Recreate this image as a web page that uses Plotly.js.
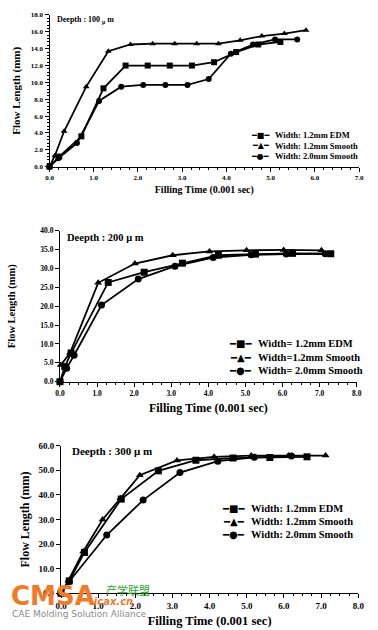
<!DOCTYPE html>
<html><head><meta charset="utf-8">
<script src="https://cdn.plot.ly/plotly-3.0.1.min.js"></script>
<style>html,body{margin:0;padding:0;background:#fff}</style>
</head><body>
<div id="chart" style="width:378px;height:630px"></div>
<script>
// ---- Depth 100 um ----
const d100_edm_x = [0, 0.22, 0.72, 1.22, 1.72, 2.22, 2.72, 3.22, 3.72, 4.22, 4.72, 5.22];
const d100_edm_y = [0, 1.2, 3.6, 9.3, 12.0, 12.0, 12.0, 12.0, 12.4, 13.6, 14.5, 14.8];
const d100_s12_x = [0, 0.12, 0.33, 0.83, 1.33, 1.83, 2.33, 2.83, 3.33, 3.82, 4.31, 4.8, 5.31, 5.8];
const d100_s12_y = [0, 1.3, 4.2, 9.5, 13.7, 14.5, 14.6, 14.6, 14.6, 14.6, 15.0, 15.5, 15.8, 16.2];
const d100_s20_x = [0, 0.2, 0.62, 1.12, 1.62, 2.12, 2.62, 3.12, 3.6, 4.1, 4.6, 5.1, 5.6];
const d100_s20_y = [0, 1.0, 2.8, 7.8, 9.5, 9.7, 9.7, 9.7, 10.4, 13.4, 14.5, 15.1, 15.1];
// ---- Depth 200 um ----
const d200_edm_x = [0, 0.13, 0.3, 1.3, 2.27, 3.3, 4.27, 5.27, 6.27, 7.3];
const d200_edm_y = [0, 4.0, 7.6, 26.3, 29.0, 31.4, 33.5, 33.8, 34.0, 33.9];
const d200_s12_x = [0.02, 0.27, 1.03, 2.02, 3.04, 4.03, 5.03, 6.03, 7.05];
const d200_s12_y = [4.4, 7.6, 26.2, 31.3, 33.5, 34.5, 34.8, 34.9, 34.8];
const d200_s20_x = [0, 0.18, 0.38, 1.12, 2.11, 3.1, 4.13, 5.15, 6.1, 7.15];
const d200_s20_y = [0, 3.6, 7.0, 20.3, 27.2, 30.6, 32.9, 33.6, 33.8, 33.9];
// ---- Depth 300 um ----
const d300_edm_x = [0, 0.22, 0.63, 1.62, 2.62, 3.63, 4.63, 5.62, 6.62];
const d300_edm_y = [0, 5.0, 16.6, 38.3, 49.8, 54.1, 55.0, 55.2, 55.5];
const d300_s12_x = [0, 0.2, 0.6, 1.12, 1.6, 2.12, 3.12, 4.12, 5.12, 6.12, 7.12];
const d300_s12_y = [0, 5.2, 17.0, 30.0, 38.6, 48.0, 54.0, 55.5, 56.0, 56.0, 56.0];
const d300_s20_x = [0, 0.22, 1.23, 2.21, 3.2, 4.22, 5.2, 6.2];
const d300_s20_y = [0, 4.8, 23.7, 37.9, 49.1, 53.7, 55.3, 55.8];

const names100 = ['Width: 1.2mm EDM', 'Width: 1.2mm Smooth', 'Width: 2.0mm Smooth'];
const names200 = ['Width= 1.2mm EDM', 'Width=1.2mm Smooth', 'Width= 2.0mm Smooth'];
const names300 = ['Width: 1.2mm EDM', 'Width: 1.2mm Smooth', 'Width: 2.0mm Smooth'];
const depthLabels = ['Deepth : 100 <sub>μ</sub> m', 'Deepth : 200 μ m', 'Deepth : 300 μ m'];
const xTitle = 'Filling Time (0.001 sec)';
const yTitle = 'Flow Length (mm)';

const symbols = ['square', 'triangle-up', 'circle'];
const legendGlyphs = ['━■━', '━▲━', '━●━'];
const SERIF = 'Liberation Serif, Times New Roman, serif';

function tr(x, y, name, sym, ax, msize) {
  return {x: x, y: y, name: name, type: 'scatter', mode: 'lines+markers',
    xaxis: ax[0], yaxis: ax[1], cliponaxis: false, showlegend: false,
    line: {color: '#000', width: 1.8},
    marker: {symbol: sym, size: msize, color: '#000'}};
}
const data = [
  tr(d100_edm_x, d100_edm_y, names100[0], symbols[0], ['x','y'], 6),
  tr(d100_s12_x, d100_s12_y, names100[1], symbols[1], ['x','y'], 6),
  tr(d100_s20_x, d100_s20_y, names100[2], symbols[2], ['x','y'], 6),
  tr(d200_edm_x, d200_edm_y, names200[0], symbols[0], ['x2','y2'], 7),
  tr(d200_s12_x, d200_s12_y, names200[1], symbols[1], ['x2','y2'], 7),
  tr(d200_s20_x, d200_s20_y, names200[2], symbols[2], ['x2','y2'], 7),
  tr(d300_edm_x, d300_edm_y, names300[0], symbols[0], ['x3','y3'], 7),
  tr(d300_s12_x, d300_s12_y, names300[1], symbols[1], ['x3','y3'], 7),
  tr(d300_s20_x, d300_s20_y, names300[2], symbols[2], ['x3','y3'], 7)
];

function xax(dom, anchor, range, minor, tsize, tfs, standoff) {
  return {domain: dom, anchor: anchor, range: range, dtick: 1, tickformat: '.1f',
    showgrid: false, zeroline: false, showline: true, linecolor: '#000', linewidth: 1,
    ticks: 'outside', ticklen: 4, tickcolor: '#000',
    minor: {dtick: minor, ticks: 'outside', ticklen: 2, tickcolor: '#000'},
    tickfont: {family: SERIF, size: tsize, color: '#000', weight: 'bold'},
    title: {text: xTitle, font: {family: SERIF, size: tfs, color: '#000', weight: 'bold'}, standoff: standoff},
    automargin: false};
}
function yax(dom, anchor, range, dt, minor, tsize, tfs, standoff) {
  const o = {domain: dom, anchor: anchor, range: range, dtick: dt, tickformat: '.1f',
    showgrid: false, zeroline: false, showline: true, linecolor: '#000', linewidth: 1,
    ticks: 'outside', ticklen: 4, tickcolor: '#000',
    tickfont: {family: SERIF, size: tsize, color: '#000', weight: 'bold'},
    title: {text: yTitle, font: {family: SERIF, size: tfs, color: '#000', weight: 'bold'}, standoff: standoff},
    automargin: false};
  if (minor) o.minor = {dtick: minor, ticks: 'outside', ticklen: 2, tickcolor: '#000'};
  return o;
}
function ann(text, x, y, xanchor, fam, fs, color, bold) {
  const f = {family: fam, size: fs, color: color};
  if (bold) f.weight = 'bold';
  return {text: text, xref: 'paper', yref: 'paper', x: x / 378, y: 1 - y / 630,
    xanchor: xanchor, yanchor: 'middle', showarrow: false, font: f};
}
// legend blocks: [names, glyph right edge px, text left px, row centres px, text size, glyph size]
const legendBlocks = [
  [names100, 271, 273, [135, 145.5, 156], 8.5, 8],
  [names200, 254, 256, [344, 357, 370], 10.5, 10],
  [names300, 247, 249, [508, 521, 534], 10.5, 10]
];
const annotations = [
  ann(depthLabels[0], 55, 20, 'left', SERIF, 8, '#000', true),
  ann(depthLabels[1], 65, 237, 'left', SERIF, 10.5, '#000', true),
  ann(depthLabels[2], 70, 451, 'left', SERIF, 11, '#000', true)
];
legendBlocks.forEach(function (b) {
  for (let i = 0; i < 3; i++) {
    annotations.push(ann(legendGlyphs[i], b[1], b[3][i], 'right', 'DejaVu Sans, sans-serif', b[5], '#000', false));
    annotations.push(ann(b[0][i], b[2], b[3][i], 'left', SERIF, b[4], '#000', true));
  }
});
annotations.push(ann('CMSA', 9, 596, 'left', 'DejaVu Sans, sans-serif', 26, '#f07a28', true));
annotations.push(ann('产学联盟', 104, 590, 'left', 'Noto Sans CJK SC, sans-serif', 11, '#2aa82a', false));
annotations.push(ann('<i>.icax.cn</i>', 88, 601, 'left', 'DejaVu Sans, sans-serif', 10, '#f07a28', true));
annotations.push(ann('CAE Molding Solution Alliance', 10, 614, 'left', 'DejaVu Sans, sans-serif', 9, '#8a8a8a', false));

const layout = {
  width: 378, height: 630, margin: {l: 0, r: 0, t: 0, b: 0},
  paper_bgcolor: '#fff', plot_bgcolor: '#fff', showlegend: false,
  xaxis: xax([0.131, 0.950], 'y', [0, 7], 0.2, 7, 10, 4),
  yaxis: yax([0.7354, 0.9762], 'x', [0, 18], 2, 0.4, 7, 11, 8),
  xaxis2: xax([0.1587, 0.9437], 'y2', [0, 8], 0.25, 7.5, 12, 6),
  yaxis2: yax([0.3941, 0.6338], 'x2', [0, 40], 5, null, 7.5, 10.5, 22),
  xaxis3: xax([0.1614, 0.9479], 'y3', [0, 8], 0.25, 9, 12.5, 6),
  yaxis3: yax([0.0583, 0.2925], 'x3', [0, 60], 10, null, 9, 12, 6),
  annotations: annotations
};

Plotly.newPlot('chart', data, layout, {staticPlot: true, displayModeBar: false});
</script>
</body></html>
